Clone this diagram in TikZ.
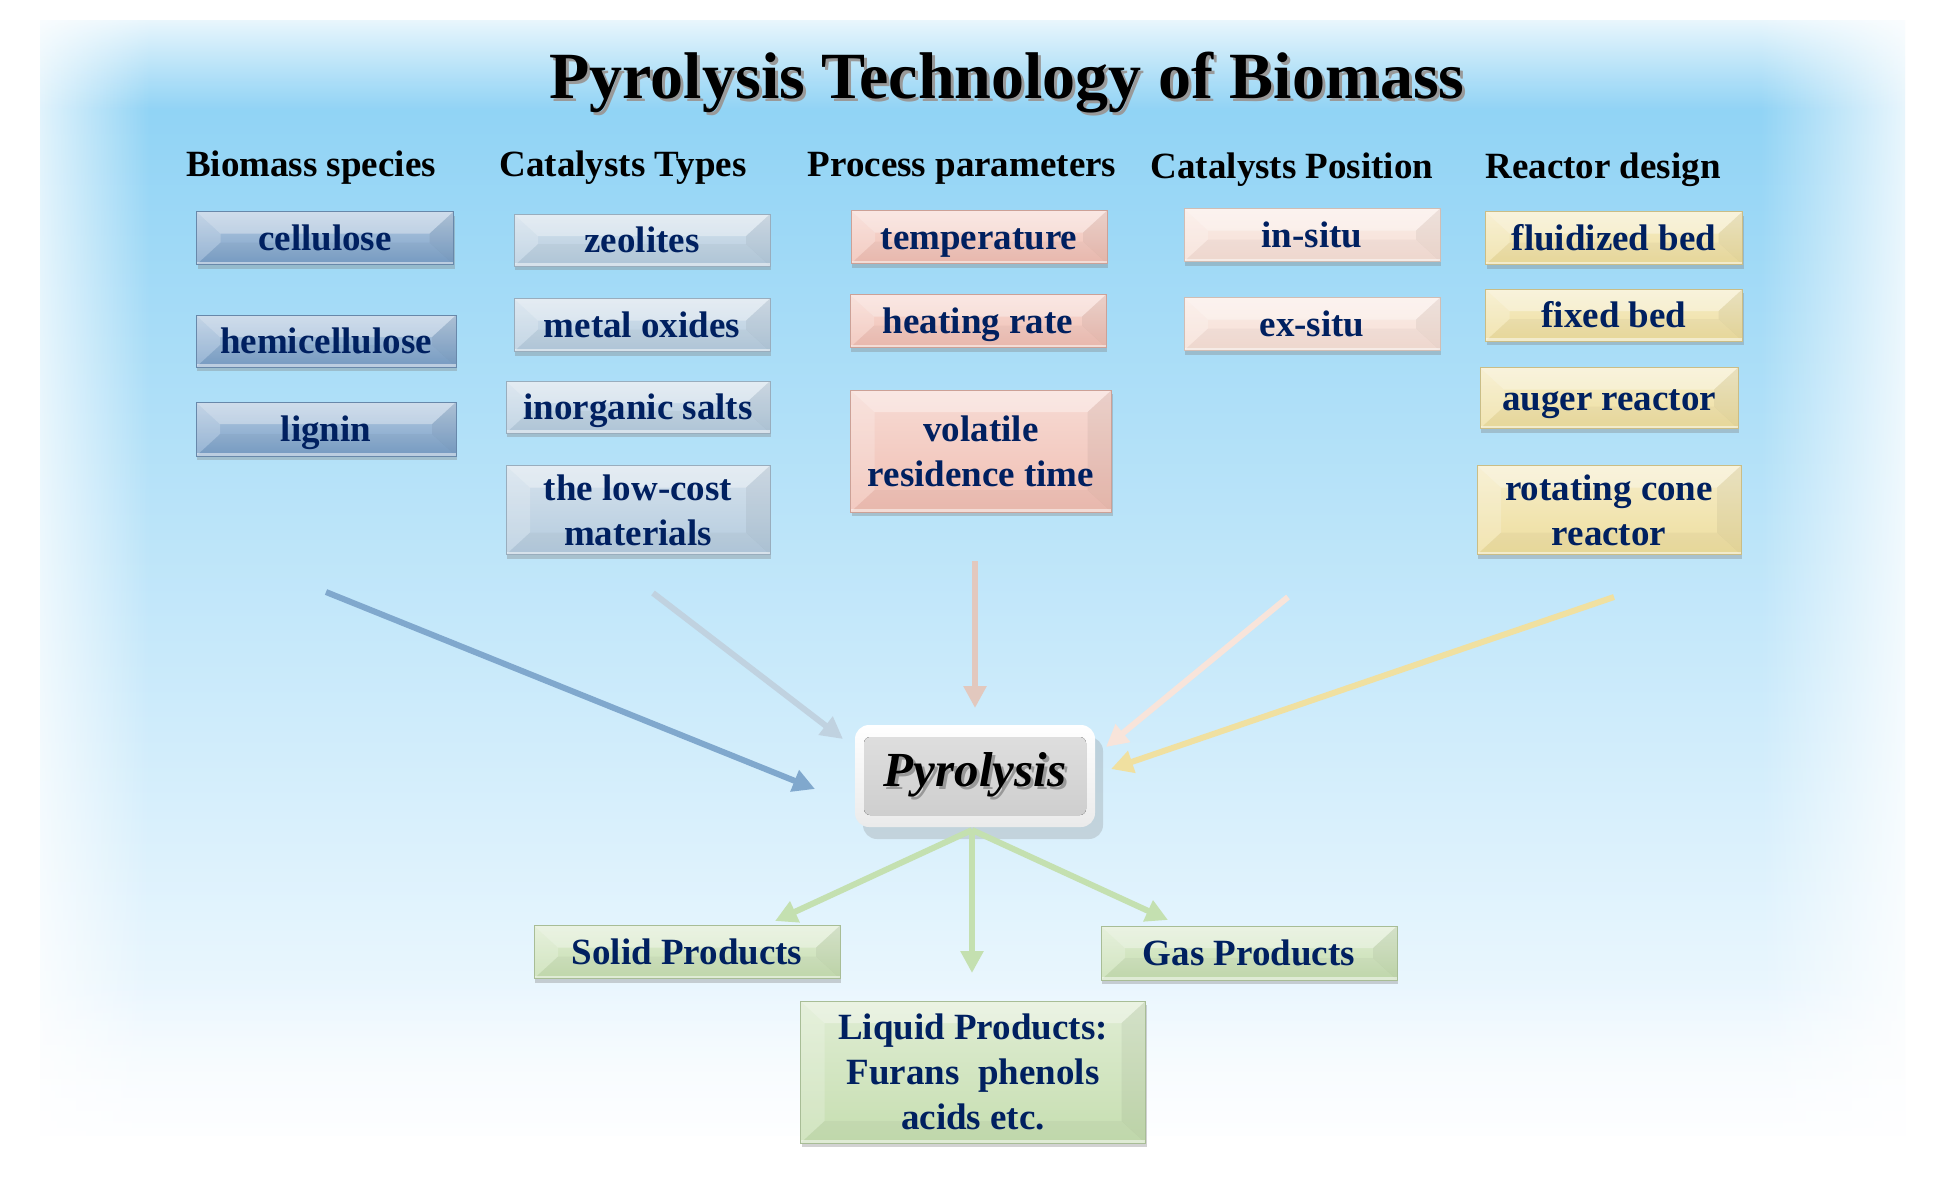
\documentclass[tikz,border=0pt]{standalone}
\usepackage{fontspec}
\setmainfont{Liberation Serif}
\usetikzlibrary{arrows.meta,shadows,fadings}
\definecolor{navy}{RGB}{0,32,96}
\definecolor{cBlue}{RGB}{122,160,200}
\definecolor{cGrey}{RGB}{180,203,222}
\definecolor{cSalm}{RGB}{240,190,178}
\definecolor{cPeach}{RGB}{246,222,212}
\definecolor{cYell}{RGB}{238,222,158}
\definecolor{cGreen}{RGB}{198,222,176}
\definecolor{aBlue}{RGB}{128,168,205}
\definecolor{aGrey}{RGB}{192,210,224}
\definecolor{aSalm}{RGB}{226,200,190}
\definecolor{aPeach}{RGB}{248,228,218}
\definecolor{aYell}{RGB}{240,224,160}
\definecolor{aGreen}{RGB}{196,224,176}
\definecolor{bgTop}{RGB}{136,208,244}
\definecolor{bgMid}{RGB}{200,233,250}
\definecolor{bgBot}{RGB}{248,252,255}
\tikzfading[name=fadeLeft, left color=transparent!0, right color=transparent!100]
\tikzfading[name=fadeRight, left color=transparent!100, right color=transparent!0]
\tikzfading[name=fadeTop, top color=transparent!0, bottom color=transparent!100]
\tikzfading[name=fadeBot, top color=transparent!100, bottom color=transparent!0]
\tikzset{
  bevelbox/.style={rectangle, inner sep=0pt, align=center, text=navy,
    font=\bfseries\fontsize{37}{45}\selectfont, text height=30pt, text depth=5pt,
    top color=#1!55!white, bottom color=#1, draw=#1!85!black, line width=0.5pt,
    drop shadow={shadow xshift=1pt, shadow yshift=-4pt, opacity=0.35},
    path picture={
      \path (path picture bounding box.north west) coordinate (bnw)
            (path picture bounding box.north east) coordinate (bne)
            (path picture bounding box.south west) coordinate (bsw)
            (path picture bounding box.south east) coordinate (bse);
      \fill[white,opacity=0.35] (bnw) -- (bne) -- ([shift={(-24pt,-22pt)}]bne) -- ([shift={(24pt,-22pt)}]bnw) -- cycle;
      \fill[white,opacity=0.2] (bnw) -- ([shift={(24pt,-22pt)}]bnw) -- ([shift={(24pt,22pt)}]bsw) -- (bsw) -- cycle;
      \fill[black,opacity=0.05] (bne) -- ([shift={(-24pt,-22pt)}]bne) -- ([shift={(-24pt,22pt)}]bse) -- (bse) -- cycle;
      \fill[black,opacity=0.03] (bsw) -- ([shift={(24pt,22pt)}]bsw) -- ([shift={(-24pt,22pt)}]bse) -- (bse) -- cycle;
      \fill[white,opacity=0.5] ([yshift=3pt]bsw) rectangle (bse);
    }},
  multiline/.style={text height={}, text depth={}},
  header/.style={font=\bfseries\fontsize{37}{40}\selectfont, text=black, inner sep=0pt},
  flowarrow/.style={line width=6pt, -{Triangle[length=22pt,width=22pt]}}
}
\begin{document}
\begin{tikzpicture}[x=1pt,y=-1pt]
\useasboundingbox (0,0) rectangle (1942,1176);
% background
\fill[white] (0,0) rectangle (1942,1176);
\shade[top color=bgTop, middle color=bgMid, bottom color=bgBot] (40,20) rectangle (1905,1135);
\fill[white, path fading=fadeLeft] (0,0) rectangle (150,1176);
\fill[white, path fading=fadeRight] (1760,0) rectangle (1942,1176);
\fill[white, path fading=fadeTop] (0,0) rectangle (1942,110);
\fill[white, path fading=fadeBot] (0,980) rectangle (1942,1176);
\fill[white] (0,0) rectangle (1942,12);
\fill[white] (0,1160) rectangle (1942,1176);
% title
\node[font=\bfseries\fontsize{66}{70}\selectfont, inner sep=0pt] (title) at (1007,84)
  {\makebox[0pt][l]{\raisebox{-3pt}{\hspace{3pt}\textcolor{black!40}{Pyrolysis Technology of Biomass}}}Pyrolysis Technology of Biomass};
% headers
\node[header] (h1) at (311,168) {Biomass species};
\node[header] (h2) at (623,168) {Catalysts Types};
\node[header] (h3) at (962,168) {Process parameters};
\node[header] (h4) at (1292,170) {Catalysts Position};
\node[header] (h5) at (1603,170) {Reactor design};
% column 1
\node[bevelbox=cBlue, minimum width=257pt, minimum height=53pt] (b11) at (325,238) {cellulose};
\node[bevelbox=cBlue, minimum width=260pt, minimum height=52pt] (b12) at (326,341) {hemicellulose};
\node[bevelbox=cBlue, minimum width=260pt, minimum height=54pt] (b13) at (326,429) {lignin};
% column 2
\node[bevelbox=cGrey, minimum width=256pt, minimum height=52pt] (b21) at (642,240) {zeolites};
\node[bevelbox=cGrey, minimum width=256pt, minimum height=53pt] (b22) at (642,325) {metal oxides};
\node[bevelbox=cGrey, minimum width=264pt, minimum height=52pt] (b23) at (638,407) {inorganic salts};
\node[bevelbox=cGrey, multiline, minimum width=264pt, minimum height=89pt] (b24) at (638,510) {the low-cost\\materials};
% column 3
\node[bevelbox=cSalm, minimum width=256pt, minimum height=53pt] (b31) at (979,237) {temperature};
\node[bevelbox=cSalm, minimum width=256pt, minimum height=53pt] (b32) at (978,321) {heating rate};
\node[bevelbox=cSalm, multiline, minimum width=261pt, minimum height=122pt] (b33) at (981,451) {volatile\\residence time};
% column 4
\node[bevelbox=cPeach, minimum width=256pt, minimum height=53pt] (b41) at (1312,235) {in-situ};
\node[bevelbox=cPeach, minimum width=256pt, minimum height=53pt] (b42) at (1312,324) {ex-situ};
% column 5
\node[bevelbox=cYell, minimum width=257pt, minimum height=53pt] (b51) at (1614,238) {fluidized bed};
\node[bevelbox=cYell, minimum width=257pt, minimum height=52pt] (b52) at (1614,315) {fixed bed};
\node[bevelbox=cYell, minimum width=258pt, minimum height=61pt] (b53) at (1609,398) {auger reactor};
\node[bevelbox=cYell, multiline, minimum width=264pt, minimum height=89pt] (b54) at (1609,510) {rotating cone\\reactor};
% central node
\node[rectangle, rounded corners=14pt, minimum width=240pt, minimum height=102pt, inner sep=0pt,
  top color=white, bottom color=white!92!black,
  drop shadow={shadow xshift=8pt, shadow yshift=-12pt, opacity=0.25},
  path picture={\fill[top color=white!88!black, bottom color=white!80!black, rounded corners=6pt]
     ([shift={(9pt,-12pt)}]path picture bounding box.north west) rectangle
     ([shift={(-9pt,12pt)}]path picture bounding box.south east);},
  font=\bfseries\itshape\fontsize{49}{55}\selectfont] (pyro) at (975,776)
  {\makebox[0pt][l]{\raisebox{-3pt}{\hspace{3pt}\textcolor{black!40}{Pyrolysis}}}Pyrolysis};
% products
\node[bevelbox=cGreen, minimum width=306pt, minimum height=53pt] (solid) at (687,952) {Solid Products};
\node[bevelbox=cGreen, minimum width=296pt, minimum height=54pt] (gas) at (1249,953) {Gas Products};
\node[bevelbox=cGreen, multiline, minimum width=345pt, minimum height=142pt] (liquid) at (973,1072) {Liquid Products:\\Furans\ \ phenols\\acids etc.};
% connector ends
\coordinate (s1) at (326,592);  \coordinate (e1) at (815,789);
\coordinate (s2) at (653,593);  \coordinate (e2) at (843,739);
\coordinate (s3) at (975,561);  \coordinate (e3) at (975,708);
\coordinate (s4) at (1288,597); \coordinate (e4) at (1106,747);
\coordinate (s5) at (1614,597); \coordinate (e5) at (1111,769);
\coordinate (g0) at (972,830);
\coordinate (g1) at (775,921);  \coordinate (g2) at (972,973); \coordinate (g3) at (1168,920);
% arrows
\draw[flowarrow, aBlue] (s1) -- (e1);
\draw[flowarrow, aGrey] (s2) -- (e2);
\draw[flowarrow, aSalm] (s3) -- (e3);
\draw[flowarrow, aPeach] (s4) -- (e4);
\draw[flowarrow, aYell] (s5) -- (e5);
\draw[flowarrow, aGreen] (g0) -- (g1);
\draw[flowarrow, aGreen] (g0) -- (g2);
\draw[flowarrow, aGreen] (g0) -- (g3);
\end{tikzpicture}
\end{document}
